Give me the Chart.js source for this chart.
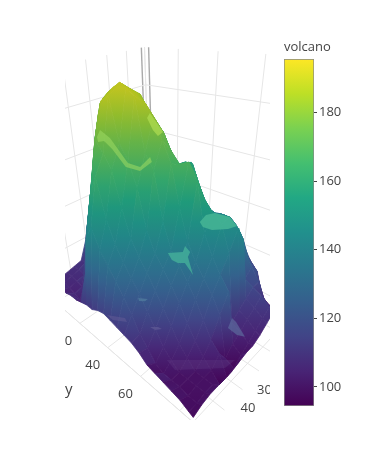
<!DOCTYPE html>
<html>
<head>
<meta charset="utf-8">
<style>
    html, body { margin: 0; background: #fff; }
    canvas { position: absolute; left: 0; top: 0; }
</style>
<script src="https://cdn.jsdelivr.net/npm/chart.js@4"></script>
</head>
<body>
<canvas id="scene" width="370" height="464"></canvas>
<canvas id="bar" width="370" height="464"></canvas>
<script>
const xCols = [0, 4, 8, 12, 16, 20, 24, 28, 32, 36, 40, 44, 48, 52, 56, 60];
const yRows = [0, 4, 8, 12, 16, 20, 24, 28, 32, 36, 40, 44, 48, 52, 56, 60, 64, 68, 72, 76, 80, 84, 86];
const heights = [
    [170, 177, 179, 182, 183, 181, 179, 169, 152, 135, 119, 109, 108, 107, 106, 106],
    [166, 172, 178, 181, 184, 184, 182, 179, 166, 147, 131, 110, 108, 107, 106, 106],
    [163, 168, 175, 180, 182, 185, 184, 182, 176, 161, 143, 127, 107, 106, 105, 107],
    [158, 165, 170, 177, 181, 184, 187, 185, 183, 173, 156, 140, 120, 105, 104, 107],
    [152, 160, 167, 173, 179, 183, 186, 187, 186, 183, 170, 152, 136, 111, 103, 108],
    [146, 154, 163, 169, 175, 181, 185, 187, 188, 186, 181, 166, 148, 131, 103, 108],
    [148, 149, 156, 165, 171, 177, 184, 186, 189, 189, 186, 178, 161, 144, 122, 109],
    [149, 151, 151, 158, 167, 173, 179, 185, 188, 191, 189, 187, 175, 157, 140, 110],
    [143, 152, 153, 154, 161, 169, 175, 181, 187, 189, 191, 189, 171, 164, 146, 110],
    [135, 144, 154, 156, 156, 163, 172, 177, 184, 188, 191, 174, 166, 149, 138, 112],
    [130, 137, 146, 156, 158, 159, 165, 174, 180, 186, 189, 169, 153, 140, 133, 113],
    [129, 133, 139, 147, 157, 160, 161, 167, 176, 182, 171, 160, 142, 134, 128, 112],
    [130, 132, 135, 140, 149, 158, 163, 164, 170, 175, 166, 145, 136, 129, 123, 111],
    [130, 133, 136, 138, 142, 150, 160, 165, 166, 168, 148, 137, 131, 124, 117, 110],
    [126, 132, 136, 139, 141, 145, 152, 161, 168, 153, 138, 132, 125, 118, 110, 109],
    [119, 127, 134, 139, 142, 144, 147, 154, 162, 141, 133, 127, 119, 112, 106, 107],
    [113, 119, 129, 135, 141, 145, 147, 150, 144, 134, 128, 121, 113, 106, 101, 104],
    [109, 115, 120, 128, 137, 143, 148, 147, 136, 129, 122, 114, 107, 102, 99, 103],
    [97, 107, 117, 121, 118, 138, 145, 137, 130, 124, 115, 108, 103, 99, 99, 102],
    [95, 99, 106, 116, 116, 113, 110, 107, 125, 117, 108, 103, 99, 99, 99, 101],
    [95, 99, 103, 107, 114, 111, 108, 105, 102, 98, 104, 99, 99, 99, 98, 100],
    [95, 99, 103, 107, 111, 108, 105, 102, 99, 96, 95, 95, 99, 99, 98, 98],
    [95, 99, 103, 107, 110, 107, 104, 102, 102, 101, 100, 100, 100, 100, 99, 97],
];

// Bright patches of the lit surface: height, strength, then [y, x] around the patch
const glintHeights = [156, 152, 118, 128, 112, 112, 103, 178, 182];
const glintAlphas = [0.8, 0.8, 0.7, 0.7, 0.7, 0.55, 0.3, 0.55, 0.65];
const glintPaths = [
    [[70.4, 42.3], [69.2, 38.1], [70.7, 35.6], [75.7, 34.7], [80.4, 37.4], [79.3, 40.2], [76.0, 43.4], [72.9, 43.8]],
    [[70.0, 55.3], [73.0, 52.3], [71.5, 49.8], [74.6, 51.0], [75.7, 53.1], [82.0, 57.9], [76.9, 55.6], [75.4, 56.8], [73.2, 56.9]],
    [[80.6, 35.3], [82.7, 35.8], [88.7, 39.1], [86.3, 40.1], [82.3, 39.7]],
    [[56.7, 56.4], [59.6, 54.6], [59.6, 55.9], [58.0, 57.1]],
    [[57.7, 52.5], [59.9, 50.6], [61.7, 50.4], [60.1, 52.3]],
    [[40.7, 59.1], [47.2, 55.6], [49.4, 56.4], [44.5, 59.2]],
    [[67.2, 53.4], [85.3, 37.8], [84.7, 42.7], [72.3, 54.5]],
    [[33.9, 51.0], [29.0, 46.3], [38.4, 49.3], [44.8, 52.3], [58.7, 58.8], [63.4, 58.6], [60.6, 52.6], [63.6, 54.7], [65.3, 60.3], [60.3, 60.8], [46.7, 54.8], [39.0, 52.0], [38.1, 53.6]],
    [[43.3, 38.0], [40.0, 33.8], [49.9, 39.9], [57.4, 44.6], [58.6, 47.7], [53.6, 45.0]],
];

const xTicks = [0, 10, 20, 30, 40, 50, 60];
const yTicks = [0, 20, 40, 60, 80];
const zTicks = [100, 120, 140, 160, 180];
const xLabels = [30, 40];
const yLabels = [20, 40, 60];
const viridis = ["#440154", "#482475", "#414487", "#355f8d", "#2a788e", "#21908d", "#22a884", "#44bf70", "#7ad151", "#bddf26", "#fde725"];

const zMin = 94.4, zMax = 195.6;
const textColor = "#444";
const textFont = "'Open Sans', sans-serif";

// Fixed camera of the 3d scene: world (y, x, z) to scene units
function project(y, x, z) {
    const u = y / 86, v = x / 60, a = -0.2366 * (z - 94) / 102;
    const d = 1 - 0.2514 * u - 0.1634 * v + a;
    return {
        x: (66.1 * u - 104.15 * v + 151 + 172 * a) / d,
        y: (-5.95 * u + 9.49 * v + 244 + 883 * a) / d,
    };
}

function viridisRgb(z) {
    const t = Math.min(Math.max((z - zMin) / (zMax - zMin), 0), 0.9999) * (viridis.length - 1);
    const i = Math.floor(t), f = t - i;
    const hex = (s, p) => parseInt(s.substr(p, 2), 16);
    const mix = (p) => hex(viridis[i], p) + (hex(viridis[i + 1], p) - hex(viridis[i], p)) * f;
    return [mix(1), mix(3), mix(5)];
}

// The lit surface reads a little darker towards the top
function surfaceColor(z) {
    const dim = 1 - 0.14 * Math.min(Math.max((z - 130) / 45, 0), 1);
    return `rgb(${viridisRgb(z).map((c) => Math.round(c * dim)).join(",")})`;
}

function glintColor(z, alpha) {
    return `rgba(${viridisRgb(z).map((c) => Math.round(c + (255 - c) * 0.16)).join(",")},${alpha})`;
}

// A cell is shaded from its lowest to its highest corner on screen
function cellFill(c) {
    const chart = c.chart, corners = c.dataset.corners;
    if (!corners) return "transparent";
    if (!chart.chartArea) return surfaceColor(corners[0].z);
    const top = corners.reduce((a, b) => (b.p.y < a.p.y ? b : a));
    const low = corners.reduce((a, b) => (b.p.y > a.p.y ? b : a));
    const y0 = chart.scales.y.getPixelForValue(top.p.y);
    const y1 = chart.scales.y.getPixelForValue(low.p.y);
    if (y1 - y0 < 0.5) return surfaceColor(top.z);
    const g = chart.ctx.createLinearGradient(0, y0, 0, y1);
    g.addColorStop(0, surfaceColor(top.z));
    g.addColorStop(0.5, surfaceColor((top.z + low.z) / 2));
    g.addColorStop(1, surfaceColor(low.z));
    return g;
}

const datasets = [];

// The first dataset ends on top, so patches come first and the grid last
glintPaths.forEach((path, i) => {
    const pts = path.map(([y, x]) => project(y, x, glintHeights[i]));
    datasets.push({
        data: [...pts, pts[0]],
        showLine: true,
        fill: "shape",
        borderWidth: 0,
        backgroundColor: glintColor(glintHeights[i], glintAlphas[i]),
        pointRadius: 0,
    });
});

for (let r = yRows.length - 2; r >= 0; r--) {
    for (let k = xCols.length - 2; k >= 0; k--) {
        const corners = [[r, k], [r + 1, k], [r + 1, k + 1], [r, k + 1]].map(([i, j]) => ({
            p: project(yRows[i], xCols[j], heights[i][j]),
            z: heights[i][j],
        }));
        const pts = corners.map((n) => n.p);
        datasets.push({
            data: [...pts, pts[0]],
            corners,
            showLine: true,
            fill: "shape",
            borderWidth: 0.8,
            borderColor: cellFill,
            backgroundColor: cellFill,
            pointRadius: 0,
        });
    }
}

function gridLine(a, b, color, width) {
    datasets.push({
        data: [a, b],
        showLine: true,
        fill: false,
        borderWidth: width || 1,
        borderColor: color || "#e6e6e6",
        pointRadius: 0,
    });
}

xTicks.forEach((x) => {
    gridLine(project(0, x, zMin), project(91, x, zMin));
    gridLine(project(0, x, zMin), project(0, x, zMax));
});
yTicks.forEach((y) => {
    gridLine(project(y, 0, zMin), project(y, 60, zMin));
    gridLine(project(y, 0, zMin), project(y, 0, zMax));
});
zTicks.forEach((z) => {
    gridLine(project(0, 0, z), project(0, 60, z));
    gridLine(project(0, 0, z), project(86, 0, z));
});
gridLine(project(0, 60, zMin), project(86, 60, zMin));
gridLine(project(86, 0, zMin), project(86, 60, zMin));
gridLine(project(0, 1.8, zMin), project(0, 1.8, zMax), "#aaa", 1.4);
gridLine(project(2.6, 0, zMin), project(2.6, 0, zMax), "#aaa", 1.4);

// Axis text sits under the surface and is cut by the scene box
const axisText = {
    id: "axisText",
    beforeDatasetsDraw(chart) {
        const { ctx, chartArea, scales } = chart;
        const put = (text, p, dx, dy, size) => {
            ctx.font = `${size}px ${textFont}`;
            ctx.fillText(text, scales.x.getPixelForValue(p.x) + dx, scales.y.getPixelForValue(p.y) + dy);
        };
        ctx.save();
        ctx.beginPath();
        ctx.rect(chartArea.left, chartArea.top, chartArea.width, chartArea.height);
        ctx.clip();
        ctx.fillStyle = textColor;
        ctx.textAlign = "center";
        ctx.textBaseline = "middle";
        yLabels.forEach((y) => put(String(y), project(y, 60, zMin), -15, 18, 13));
        xLabels.forEach((x) => put(String(x), project(86, x, zMin), 17, 27, 13));
        put("y", project(40, 60, zMin), -39, 42, 15);
        ctx.restore();
    },
};

new Chart(document.getElementById("scene"), {
    type: "scatter",
    data: { datasets },
    options: {
        responsive: false,
        animation: false,
        events: [],
        layout: { padding: { left: 65, right: 100, top: 44, bottom: 44 } },
        scales: {
            x: { type: "linear", display: false, min: 65, max: 270 },
            y: { type: "linear", display: false, reverse: true, min: 44, max: 420 },
        },
        plugins: { legend: { display: false }, tooltip: { enabled: false } },
    },
    plugins: [axisText],
});

new Chart(document.getElementById("bar"), {
    type: "bar",
    data: {
        labels: ["volcano"],
        datasets: [{
            data: [[zMin, zMax]],
            barPercentage: 1,
            categoryPercentage: 1,
            borderWidth: 1,
            borderColor: "#888",
            borderSkipped: false,
            backgroundColor: (c) => {
                const chart = c.chart;
                if (!chart.chartArea) return viridis[5];
                const g = chart.ctx.createLinearGradient(0, chart.chartArea.bottom, 0, chart.chartArea.top);
                viridis.forEach((col, i) => g.addColorStop(i / (viridis.length - 1), col));
                return g;
            },
        }],
    },
    options: {
        responsive: false,
        animation: false,
        events: [],
        layout: { padding: { left: 284, top: 39, bottom: 58 } },
        scales: {
            x: { display: false },
            y: {
                position: "right",
                min: zMin,
                max: zMax,
                afterFit: (s) => { s.width = 56; },
                border: { display: false },
                grid: { drawOnChartArea: false, tickLength: 3, color: textColor },
                ticks: {
                    stepSize: 20,
                    includeBounds: false,
                    padding: 2,
                    color: textColor,
                    font: { family: textFont, size: 13 },
                },
            },
        },
        plugins: {
            legend: { display: false },
            tooltip: { enabled: false },
            title: {
                display: true,
                text: "volcano",
                align: "start",
                color: textColor,
                font: { family: textFont, size: 13, weight: "normal" },
                padding: { top: 0, bottom: 4.5 },
            },
        },
    },
});
</script>
</body>
</html>
